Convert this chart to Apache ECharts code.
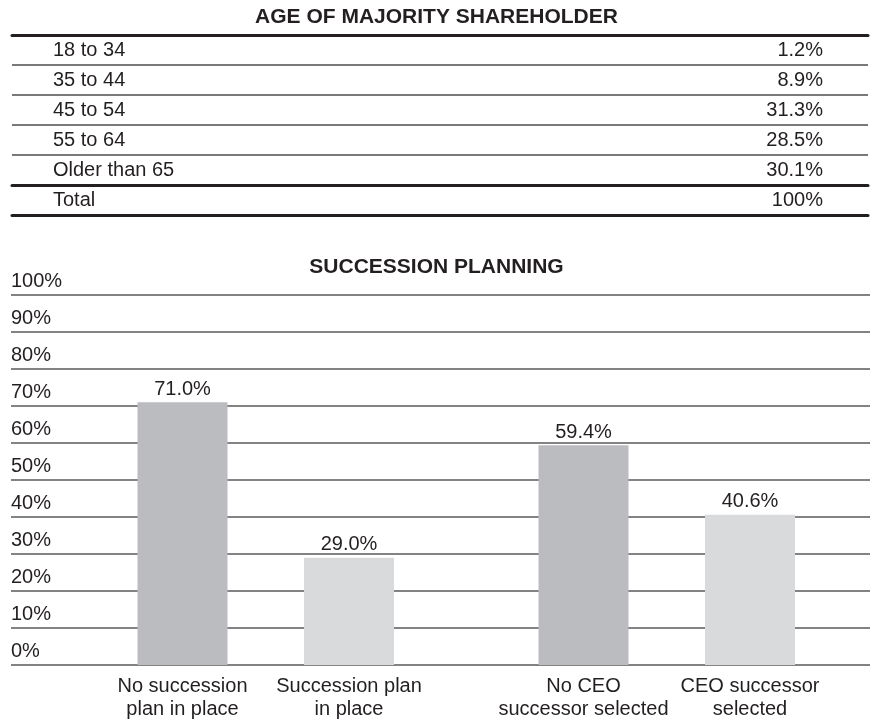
<!DOCTYPE html>
<html>
<head>
<meta charset="utf-8">
<script src="https://cdn.jsdelivr.net/npm/echarts@6/dist/echarts.min.js"></script>
<style>
  html, body { margin: 0; padding: 0; background: #fff; }
  #chart { width: 873px; height: 726px; }
</style>
</head>
<body>
<div id="chart"></div>
<script>
// table: age of majority shareholder
const ageGroups = ["18 to 34", "35 to 44", "45 to 54", "55 to 64", "Older than 65"];
const ageShares = [1.2, 8.9, 31.3, 28.5, 30.1];
const totalLabel = "Total";
const totalShare = 100;

// bars: succession planning
const planCategories = ["No succession\nplan in place", "Succession plan\nin place"];
const planValues = [71.0, 29.0];
const ceoCategories = ["No CEO\nsuccessor selected", "CEO successor\nselected"];
const ceoValues = [59.4, 40.6];
const barColors = ["#bbbcbf", "#d9dadc"];

const FONT = '"Liberation Sans", Arial, Helvetica, sans-serif';
const INK = "#231f20";

const chart = echarts.init(document.getElementById("chart"));

// thick rule of the table, drawn as an axis line
const ruleAxis = (gridIndex, position) => ({
  type: "value",
  gridIndex: gridIndex,
  position: position,
  min: 0,
  max: 1,
  axisLine: { show: true, lineStyle: { color: INK, width: 3 } },
  axisTick: { show: false },
  axisLabel: { show: false },
  splitLine: { show: false },
});

const rowAxis = (gridIndex, position, data, withLines) => ({
  type: "category",
  gridIndex: gridIndex,
  position: position,
  inverse: true,
  data: data,
  axisLine: { show: false },
  axisTick: { show: false },
  axisLabel: {
    inside: true,
    align: position === "left" ? "left" : "right",
    margin: position === "left" ? 41 : 45,
    fontSize: 20,
    color: INK,
    fontFamily: FONT,
  },
  splitLine: { show: withLines, interval: 0, lineStyle: { color: "#4d4d4d", width: 1.5 } },
});

const barXAxis = (gridIndex, data) => ({
  type: "category",
  gridIndex: gridIndex,
  data: data,
  axisLine: { show: false },
  axisTick: { show: false },
  axisLabel: {
    color: INK,
    fontSize: 20,
    lineHeight: 23,
    margin: 10,
    fontFamily: FONT,
    interval: 0,
  },
});

const hiddenY = (gridIndex) => ({
  type: "value",
  gridIndex: gridIndex,
  min: 0,
  max: 100,
  show: false,
});

const barSeries = (xIdx, yIdx, values) => ({
  type: "bar",
  xAxisIndex: xIdx,
  yAxisIndex: yIdx,
  barWidth: 90,
  data: values,
  itemStyle: {
    color: (p) => barColors[p.dataIndex],
  },
  label: {
    show: true,
    position: "top",
    distance: 3,
    color: INK,
    fontSize: 20,
    fontFamily: FONT,
    formatter: (p) => p.value.toFixed(1) + "%",
  },
  silent: true,
});

const titleStyle = { fontSize: 21, fontWeight: "bold", color: INK, fontFamily: FONT };

const option = {
  animation: false,
  backgroundColor: "#fff",
  textStyle: { fontFamily: FONT, color: INK },
  title: [
    { text: "AGE OF MAJORITY SHAREHOLDER", left: "center", top: 7, padding: 0, textStyle: titleStyle },
    { text: "SUCCESSION PLANNING", left: "center", top: 257, padding: 0, textStyle: titleStyle },
  ],
  grid: [
    // 0: table rows
    { left: 12, width: 856, top: 35, height: 150, outerBoundsMode: "none" },
    // 1: table total
    { left: 12, width: 856, top: 185, height: 30, outerBoundsMode: "none" },
    // 2: chart gridlines and y labels
    { left: 11, width: 859, top: 295, height: 370, outerBoundsMode: "none" },
    // 3: succession plan bars
    { left: 99.25, width: 333, top: 295, height: 370, outerBoundsMode: "none" },
    // 4: CEO successor bars
    { left: 500.25, width: 333, top: 295, height: 370, outerBoundsMode: "none" },
  ],
  xAxis: [
    ruleAxis(0, "top"),
    ruleAxis(0, "bottom"),
    ruleAxis(1, "bottom"),
    { type: "value", gridIndex: 2, min: 0, max: 1, show: false },
    barXAxis(3, planCategories),
    barXAxis(4, ceoCategories),
  ],
  yAxis: [
    rowAxis(0, "left", ageGroups, true),
    rowAxis(0, "right", ageShares.map((v) => v.toFixed(1) + "%"), false),
    rowAxis(1, "left", [totalLabel], false),
    rowAxis(1, "right", [totalShare + "%"], false),
    {
      type: "value",
      gridIndex: 2,
      min: 0,
      max: 100,
      interval: 10,
      axisLine: { show: false },
      axisTick: { show: false },
      axisLabel: {
        inside: true,
        align: "left",
        verticalAlign: "bottom",
        margin: 0,
        padding: [0, 0, 4, 0],
        fontSize: 20,
        color: INK,
        fontFamily: FONT,
        formatter: "{value}%",
      },
      splitLine: { show: true, lineStyle: { color: "#5a5a5a", width: 1.6 } },
    },
    hiddenY(3),
    hiddenY(4),
  ],
  series: [
    barSeries(4, 5, planValues),
    barSeries(5, 6, ceoValues),
  ],
};

chart.setOption(option);
window.addEventListener("resize", () => {
  chart.resize();
});
</script>
</body>
</html>
